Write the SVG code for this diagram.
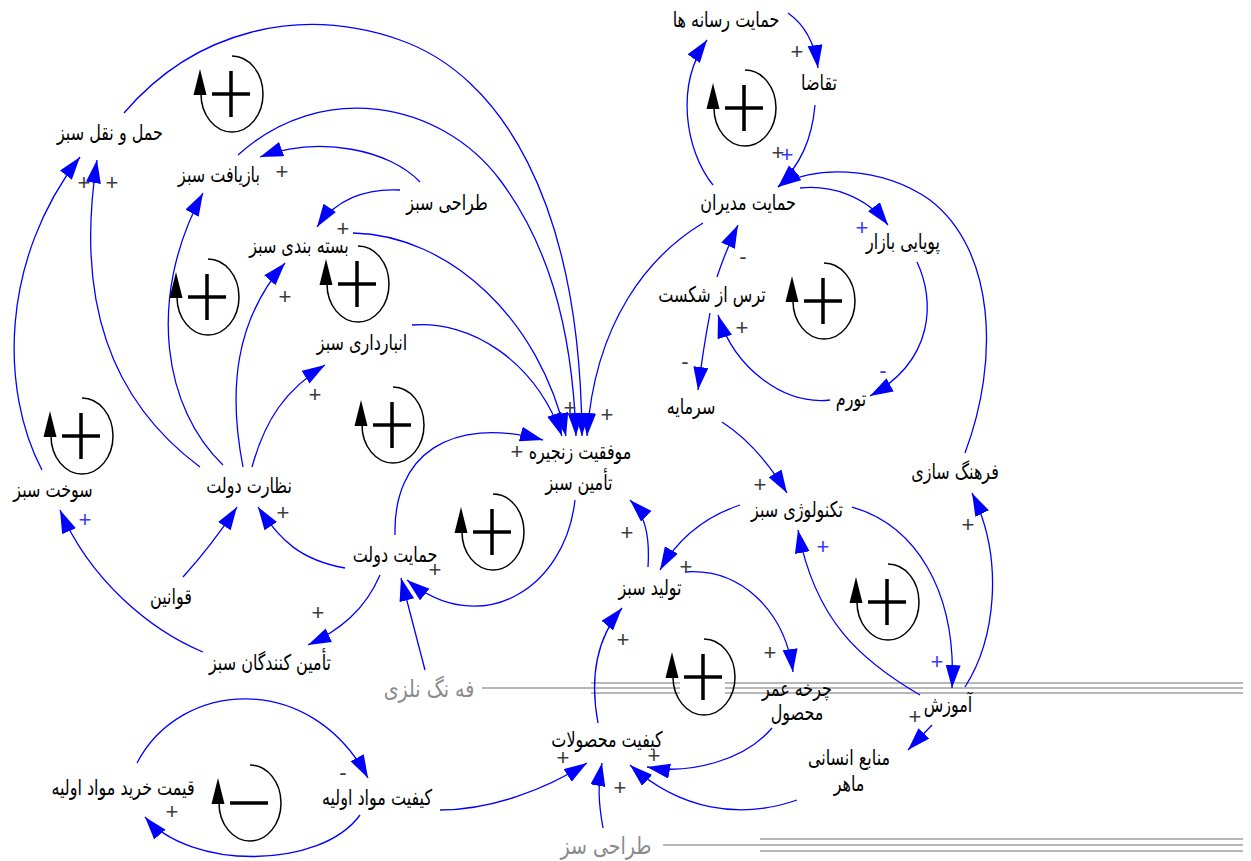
<svg xmlns="http://www.w3.org/2000/svg" xmlns:xlink="http://www.w3.org/1999/xlink" width="1251" height="861" viewBox="0 0 1251 861">
<style>
.n{font-family:"DejaVu Sans","Noto Sans",sans-serif;font-size:16px;fill:#000;text-anchor:middle}
.g{font-family:"DejaVu Sans","Noto Sans",sans-serif;font-size:19px;fill:#8a8a8a;text-anchor:middle}
.p{font-family:"Liberation Sans",Arial,sans-serif;font-size:22px;fill:#3c3c3c;text-anchor:middle}
.pb{font-family:"Liberation Sans",Arial,sans-serif;font-size:22px;fill:#3a3aff;text-anchor:middle}
.c{fill:none;stroke:#0000ff;stroke-width:1.3;marker-end:url(#ah)}
.gl{stroke:#a0a0a0;stroke-width:1.5;fill:none}
.la{fill:none;stroke:#000;stroke-width:1.5}
.ls{fill:none;stroke:#000;stroke-width:3.5}
</style>
<defs>
<marker id="ah" markerUnits="userSpaceOnUse" markerWidth="26" markerHeight="16" refX="23" refY="7.5" orient="auto">
<path d="M0,0 L23,7.5 L0,15 z" fill="#0000ff"/>
</marker>
<g id="loopArc">
<path class="la" d="M1,-38 A31,38 0 1 1 -30,0"/>
<polygon points="-31,-25 -37.5,1 -24.5,1" fill="#000"/>
</g>
<g id="loopPos">
<use xlink:href="#loopArc"/>
<path class="ls" d="M-19,0 H19 M0,-23 V23"/>
</g>
<g id="loopNeg">
<use xlink:href="#loopArc"/>
<path class="ls" d="M-19,0 H19"/>
</g>
</defs>
<rect width="1251" height="861" fill="#fff"/>

<g id="ghost-lines">
<path class="gl" d="M482,688 H1243 M591,683 H1243 M591,693 H1243"/>
<path class="gl" d="M663,845 H1243 M760,839 H1243 M760,851 H1243"/>
</g>

<g id="connectors">
<path class="c" d="M42,470 C0,390 0,260 80,157"/>
<path class="c" d="M200,467 C110,400 75,300 97,160"/>
<path class="c" d="M223,465 C165,410 145,300 203,193"/>
<path class="c" d="M243,467 C228,390 235,320 285,263"/>
<path class="c" d="M252,467 C265,420 285,390 325,365"/>
<path class="c" d="M345,568 C300,560 280,540 258,507"/>
<path class="c" d="M183,577 Q212,545 237,507"/>
<path class="c" d="M203,652 C150,630 90,580 60,510"/>
<path class="c" d="M380,575 C365,610 340,630 308,645"/>
<path class="c" d="M425,670 L401,578"/>
<path class="c" d="M575,500 C565,590 480,640 407,580"/>
<path class="c" d="M395,535 C393,455 450,415 543,440"/>
<path class="c" d="M124,113 C195,30 300,5 400,40 C500,75 580,200 582,436"/>
<path class="c" d="M238,155 C320,80 440,100 500,180 C545,240 572,320 576,436"/>
<path class="c" d="M353,233 C450,235 540,320 566,436"/>
<path class="c" d="M412,325 C470,320 535,360 562,436"/>
<path class="c" d="M703,223 C650,255 595,320 587,436"/>
<path class="c" d="M420,182 C390,150 320,135 260,157"/>
<path class="c" d="M400,190 C365,188 335,200 317,227"/>
<path class="c" d="M648,567 C650,535 645,515 630,500"/>
<path class="c" d="M740,505 C710,515 680,535 660,570"/>
<path class="c" d="M722,422 C750,440 770,465 787,493"/>
<path class="c" d="M710,313 Q703,350 698,390"/>
<path class="c" d="M717,277 Q726,250 738,225"/>
<path class="c" d="M830,400 C785,405 735,370 718,315"/>
<path class="c" d="M917,262 C935,300 935,360 870,396"/>
<path class="c" d="M800,188 C830,185 865,195 888,225"/>
<path class="c" d="M965,453 C1000,360 995,250 930,200 C880,165 810,165 778,187"/>
<path class="c" d="M815,105 C812,140 800,165 778,187"/>
<path class="c" d="M713,185 C685,150 675,85 707,40"/>
<path class="c" d="M788,13 C805,25 815,45 818,68"/>
<path class="c" d="M852,507 C915,525 957,590 952,688"/>
<path class="c" d="M965,687 C995,640 1005,560 972,493"/>
<path class="c" d="M920,695 C860,660 815,620 798,530"/>
<path class="c" d="M932,725 L908,750"/>
<path class="c" d="M685,572 C740,568 785,610 793,672"/>
<path class="c" d="M772,728 C745,760 690,775 647,767"/>
<path class="c" d="M797,800 C740,820 680,810 630,765"/>
<path class="c" d="M598,723 C590,680 595,640 622,608"/>
<path class="c" d="M440,810 C490,810 545,790 587,763"/>
<path class="c" d="M603,828 C598,800 598,785 602,763"/>
<path class="c" d="M137,763 C180,680 310,670 368,778"/>
<path class="c" d="M360,815 C320,870 190,870 145,817"/>
</g>

<g id="loops">
<g id="loop1"><use xlink:href="#loopPos" x="231" y="94"/></g>
<g id="loop2"><use xlink:href="#loopPos" x="207" y="297"/></g>
<g id="loop3"><use xlink:href="#loopPos" x="357" y="284"/></g>
<g id="loop4"><use xlink:href="#loopPos" x="392" y="425"/></g>
<g id="loop5"><use xlink:href="#loopPos" x="81" y="436"/></g>
<g id="loop6"><use xlink:href="#loopPos" x="492" y="532"/></g>
<g id="loop7"><use xlink:href="#loopPos" x="744" y="108"/></g>
<g id="loop8"><use xlink:href="#loopPos" x="823" y="301"/></g>
<g id="loop9"><use xlink:href="#loopPos" x="887" y="602"/></g>
<g id="loop10"><rect x="680" y="678" width="45" height="20" fill="#fff"/><use xlink:href="#loopPos" x="703" y="677"/></g>
<g id="loop11"><use xlink:href="#loopNeg" x="249" y="803"/></g>
</g>

<g id="polarities">
<text class="p" x="84" y="190">+</text>
<text class="p" x="112" y="190">+</text>
<text class="p" x="282" y="179">+</text>
<text class="p" x="343" y="236">+</text>
<text class="p" x="285" y="304">+</text>
<text class="p" x="315" y="402">+</text>
<text class="p" x="283" y="520">+</text>
<text class="p" x="318" y="620">+</text>
<text class="p" x="435" y="577">+</text>
<text class="p" x="517" y="459">+</text>
<text class="p" x="570" y="415">+</text>
<text class="p" x="607" y="422">+</text>
<text class="p" x="627" y="540">+</text>
<text class="p" x="686" y="574">+</text>
<text class="p" x="760" y="492">+</text>
<text class="p" x="685" y="369">-</text>
<text class="p" x="743" y="264">-</text>
<text class="p" x="742" y="335">+</text>
<text class="p" x="797" y="59">+</text>
<text class="p" x="778" y="160">+</text>
<text class="p" x="968" y="532">+</text>
<text class="p" x="915" y="724">+</text>
<text class="p" x="770" y="660">+</text>
<text class="p" x="654" y="763">+</text>
<text class="p" x="623" y="647">+</text>
<text class="p" x="563" y="765">+</text>
<text class="p" x="620" y="795">+</text>
<text class="p" x="343" y="780">-</text>
<text class="p" x="172" y="819">+</text>
<text class="pb" x="85" y="527">+</text>
<text class="pb" x="862" y="235">+</text>
<text class="pb" x="883" y="378">-</text>
<text class="pb" x="787" y="162">+</text>
<text class="pb" x="823" y="554">+</text>
<text class="pb" x="937" y="669">+</text>
</g>

<g id="node-haml"><text class="n" transform="translate(110,140) scale(1,1.35)">حمل و نقل سبز</text></g>
<g id="node-bazyaft"><text class="n" transform="translate(219,182) scale(1,1.35)">بازیافت سبز</text></g>
<g id="node-tarahi"><text class="n" transform="translate(447,210) scale(1,1.35)">طراحی سبز</text></g>
<g id="node-basteh"><text class="n" transform="translate(299,253) scale(1,1.35)">بسته بندی سبز</text></g>
<g id="node-anbar"><text class="n" transform="translate(362,350) scale(1,1.35)">انبارداری سبز</text></g>
<g id="node-sookht"><text class="n" transform="translate(53,497) scale(1,1.35)">سوخت سبز</text></g>
<g id="node-nezarat"><text class="n" transform="translate(249,493) scale(1,1.35)">نظارت دولت</text></g>
<g id="node-ghavanin"><text class="n" transform="translate(171,604) scale(1,1.35)">قوانین</text></g>
<g id="node-hemayat-dolat"><text class="n" transform="translate(395,562) scale(1,1.35)">حمایت دولت</text></g>
<g id="node-taminkonandegan"><text class="n" transform="translate(270,670) scale(1,1.35)">تأمین کنندگان سبز</text></g>
<g id="node-gheymat"><text class="n" transform="translate(123,795) scale(1,1.35)">قیمت خرید مواد اولیه</text></g>
<g id="node-keyfiat-mavad"><text class="n" transform="translate(377,805) scale(1,1.35)">کیفیت مواد اولیه</text></g>
<g id="node-movafaghiat"><text class="n" transform="translate(580,459) scale(1,1.35)">موفقیت زنجیره</text><text class="n" transform="translate(579,490) scale(1,1.35)">تأمین سبز</text></g>
<g id="node-resaneh"><text class="n" transform="translate(726,27) scale(1,1.35)">حمایت رسانه ها</text></g>
<g id="node-taghaza"><text class="n" transform="translate(819,90) scale(1,1.35)">تقاضا</text></g>
<g id="node-modiran"><text class="n" transform="translate(748,210) scale(1,1.35)">حمایت مدیران</text></g>
<g id="node-pooyaei"><text class="n" transform="translate(903,249) scale(1,1.35)">پویایی بازار</text></g>
<g id="node-tars"><text class="n" transform="translate(712,302) scale(1,1.35)">ترس از شکست</text></g>
<g id="node-sarmayeh"><text class="n" transform="translate(691,414) scale(1,1.35)">سرمایه</text></g>
<g id="node-tavarrom"><text class="n" transform="translate(851,406) scale(1,1.35)">تورم</text></g>
<g id="node-farhang"><text class="n" transform="translate(955,479) scale(1,1.35)">فرهنگ سازی</text></g>
<g id="node-technology"><text class="n" transform="translate(797,517) scale(1,1.35)">تکنولوژی سبز</text></g>
<g id="node-tolid"><text class="n" transform="translate(650,595) scale(1,1.35)">تولید سبز</text></g>
<g id="node-charkheh"><text class="n" transform="translate(797,696) scale(1,1.35)">چرخه عمر</text><text class="n" transform="translate(797,720) scale(1,1.35)">محصول</text></g>
<g id="node-amoozesh"><text class="n" transform="translate(948,712) scale(1,1.35)">آموزش</text></g>
<g id="node-manabe"><text class="n" transform="translate(849,765) scale(1,1.35)">منابع انسانی</text><text class="n" transform="translate(849,791) scale(1,1.35)">ماهر</text></g>
<g id="node-keyfiat-mahsoolat"><text class="n" transform="translate(607,747) scale(1,1.35)">کیفیت محصولات</text></g>
<g id="node-ghost1"><text class="g" transform="translate(429,697) scale(1,1.25)">فه نگ نلزی</text></g>
<g id="node-ghost2"><text class="g" transform="translate(606,854) scale(1,1.25)">طراحی سز</text></g>
</svg>
